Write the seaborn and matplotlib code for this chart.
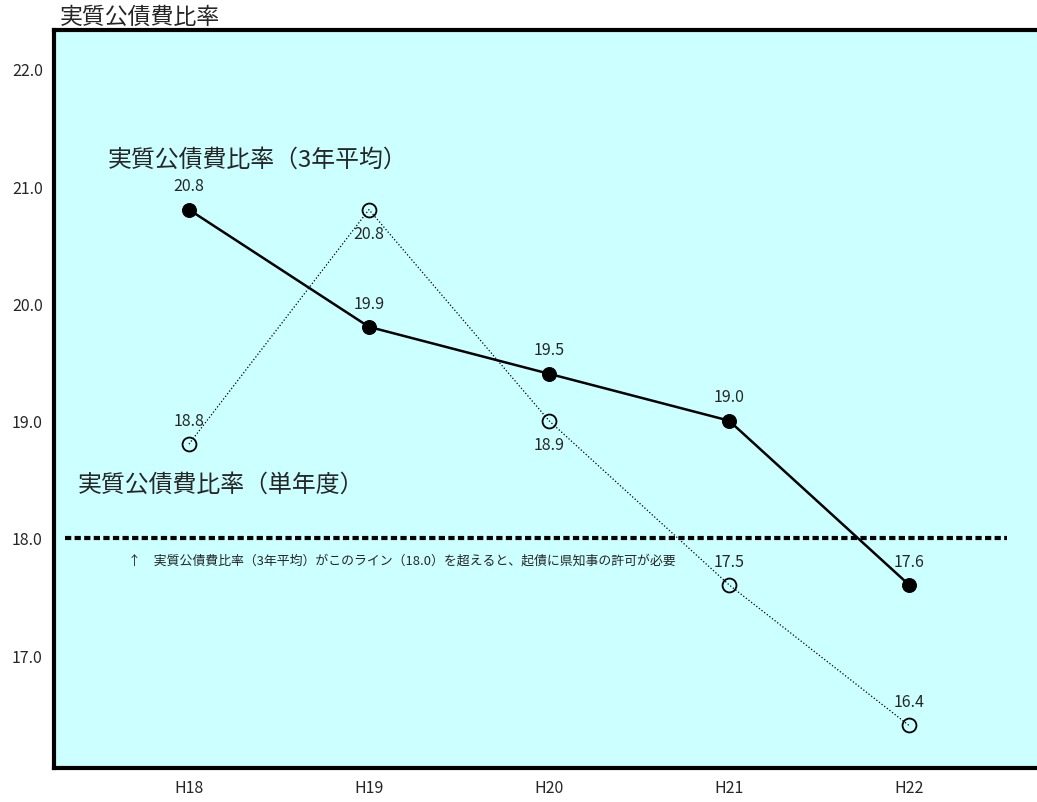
import pandas as pd
import matplotlib.pyplot as plt
import seaborn as sns

# datos
years = ['H18', 'H19', 'H20', 'H21', 'H22']
avg3 = [20.8, 19.8, 19.4, 19.0, 17.6]
avg3_labels = ['20.8', '19.9', '19.5', '19.0', '17.6']
single = [18.8, 20.8, 19.0, 17.6, 16.4]
single_labels = ['18.8', '20.8', '18.9', '17.5', '16.4']
threshold = 18.0
yticks = [17.0, 18.0, 19.0, 20.0, 21.0, 22.0]

sns.set_style('white')
plt.rcParams['font.family'] = ['Noto Sans CJK JP', 'DejaVu Sans']

df = pd.DataFrame({'idx': range(len(years)), 'avg3': avg3, 'single': single})

fig = plt.figure(figsize=(10.37, 8.03), dpi=100)
ax = fig.add_axes([0.052, 0.0423, 0.948, 0.9191])
ax.set_facecolor('#CCFFFF')

# linea limite (18.0)
ax.axhline(threshold, xmin=0.011, xmax=0.9695, color='black', lw=3,
           linestyle=(0, (1.5, 0.8)), zorder=2)

# single year (dotted, hollow)
sns.lineplot(data=df, x='idx', y='single', ax=ax, color='black', lw=0.9,
             linestyle=':', marker='o', markersize=10, markerfacecolor='none',
             markeredgecolor='black', markeredgewidth=1.3, zorder=3)
# 3 year average (solid, filled)
sns.lineplot(data=df, x='idx', y='avg3', ax=ax, color='black', lw=1.8,
             marker='o', markersize=10, markerfacecolor='black',
             markeredgecolor='black', zorder=4)

# etiquetas de valores
for i, (v, t) in enumerate(zip(avg3, avg3_labels)):
    ax.annotate(t, (i, v), xytext=(0, 11), textcoords='offset points',
                ha='center', va='bottom', fontsize=11.5)
single_dy = [11, -11, -11, 11, 11]
for i, (v, t) in enumerate(zip(single, single_labels)):
    ax.annotate(t, (i, v), xytext=(0, single_dy[i]), textcoords='offset points',
                ha='center', va='bottom' if single_dy[i] > 0 else 'top', fontsize=11.5)

ax.set_xlim(-0.75, 4.711)
ax.set_ylim(16.037, 22.332)
ax.set_xticks(range(len(years)))
ax.set_xticklabels(years, fontsize=11.5)
ax.set_yticks(yticks)
ax.set_yticklabels([f'{t:.1f}' for t in yticks], fontsize=11.5)
ax.tick_params(length=0, pad=8)
ax.set_xlabel('')
ax.set_ylabel('')

for s in ['left', 'top', 'bottom']:
    ax.spines[s].set_linewidth(3)
    ax.spines[s].set_color('black')
ax.spines['right'].set_visible(False)

# textos
fig.text(60 / 1037, 1 - 17 / 803, '実質公債費比率', fontsize=16.5, ha='left', va='center')
fig.text(108 / 1037, 1 - 160 / 803, '実質公債費比率（3年平均）', fontsize=17.2, ha='left', va='center')
fig.text(78 / 1037, 1 - 485 / 803, '実質公債費比率（単年度）', fontsize=17.2, ha='left', va='center')
fig.text(128 / 1037, 1 - 561 / 803,
         '↑　実質公債費比率（3年平均）がこのライン（18.0）を超えると、起債に県知事の許可が必要',
         fontsize=9.3, ha='left', va='center')

plt.savefig('out.png', dpi=100)
